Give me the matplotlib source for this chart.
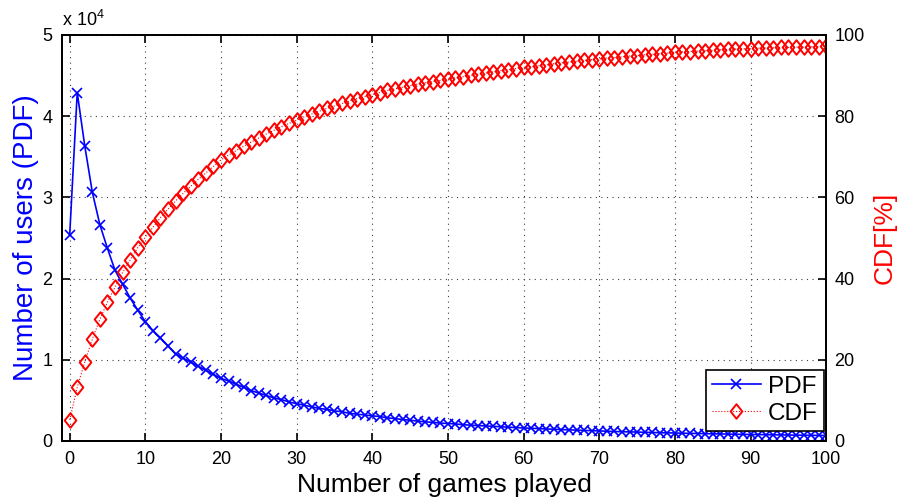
import matplotlib
matplotlib.use("Agg")
import matplotlib.pyplot as plt
from matplotlib.path import Path
from matplotlib.ticker import FuncFormatter

plt.rcParams['font.family'] = ['Liberation Sans', 'DejaVu Sans']
plt.rcParams['mathtext.fontset'] = 'custom'
plt.rcParams['mathtext.rm'] = 'Liberation Sans'

# number of games played (0..100)
games = list(range(101))

# PDF: number of users, in units of 1e4
pdf_1e4 = [
    2.53, 4.29, 3.63, 3.06, 2.66, 2.37, 2.10, 1.93, 1.76, 1.61,
    1.47, 1.36, 1.27, 1.17, 1.07, 1.02, 0.97, 0.92, 0.87, 0.82,
    0.77, 0.74, 0.70, 0.66, 0.62, 0.59, 0.56, 0.53, 0.51, 0.48,
    0.46, 0.44, 0.42, 0.40, 0.39, 0.37, 0.36, 0.34, 0.33, 0.32,
    0.31, 0.30, 0.285, 0.275, 0.265, 0.255, 0.245, 0.235, 0.23, 0.22,
    0.215, 0.21, 0.20, 0.195, 0.19, 0.185, 0.18, 0.175, 0.17, 0.165,
    0.16, 0.157, 0.152, 0.148, 0.145, 0.14, 0.137, 0.134, 0.13, 0.127,
    0.124, 0.12, 0.117, 0.114, 0.112, 0.11, 0.107, 0.105, 0.102, 0.10,
    0.098, 0.096, 0.094, 0.092, 0.09, 0.088, 0.087, 0.085, 0.083, 0.082,
    0.08, 0.079, 0.077, 0.076, 0.075, 0.073, 0.072, 0.071, 0.07, 0.069,
    0.068,
]
pdf_users = [v * 1e4 for v in pdf_1e4]

# CDF in percent
cdf_pct = [
    5.2, 13.2, 19.5, 25.1, 30.0, 34.2, 37.9, 41.5, 44.6, 47.6,
    50.2, 52.6, 55.0, 57.1, 59.1, 61.0, 62.7, 64.4, 66.0, 67.6,
    69.2, 70.4, 71.5, 72.6, 73.6, 74.6, 75.6, 76.5, 77.4, 78.2,
    79.0, 79.8, 80.5, 81.2, 81.9, 82.5, 83.1, 83.7, 84.3, 84.8,
    85.3, 85.8, 86.3, 86.7, 87.1, 87.5, 87.9, 88.2, 88.5, 88.8,
    89.1, 89.4, 89.7, 90.0, 90.3, 90.6, 90.9, 91.2, 91.4, 91.7,
    92.0, 92.2, 92.4, 92.6, 92.9, 93.1, 93.3, 93.5, 93.7, 93.9,
    94.1, 94.3, 94.4, 94.6, 94.8, 94.9, 95.1, 95.2, 95.4, 95.5,
    95.7, 95.8, 95.9, 96.0, 96.1, 96.2, 96.3, 96.4, 96.5, 96.6,
    96.6, 96.7, 96.8, 96.8, 96.9, 96.9, 97.0, 97.0, 97.1, 97.1,
    97.2,
]

# MATLAB-like diamond (a bit wider than matplotlib's 'd')
diamond = Path([(0, -1), (0.8, 0), (0, 1), (-0.8, 0), (0, -1)],
               [Path.MOVETO, Path.LINETO, Path.LINETO, Path.LINETO,
                Path.CLOSEPOLY])

fig = plt.figure(figsize=(9, 4.98), dpi=100)
ax1 = fig.add_axes([0.069, 0.1145, 0.849, 0.8155])
ax2 = ax1.twinx()

l1, = ax1.plot(games, pdf_users, color='blue', lw=1.2, marker='x',
               markersize=6.5, markeredgewidth=1.2, label='PDF')
l2, = ax2.plot(games, cdf_pct, color='red', lw=0.8, ls=':', marker=diamond,
               markersize=10.5, markerfacecolor='none', markeredgewidth=1.4,
               label='CDF')

ax1.set_xlim(-1, 100)
ax1.set_ylim(0, 5e4)
ax2.set_ylim(0, 100)
ax1.set_xticks(range(0, 101, 10))
ax1.set_yticks([i * 1e4 for i in range(6)])
ax2.set_yticks(range(0, 101, 20))
ax1.yaxis.set_major_formatter(FuncFormatter(lambda v, p: '%g' % (v / 1e4)))

ax1.grid(True, ls=(0, (1, 4)), color='0.25', lw=0.8)
ax1.tick_params(direction='in', labelsize=13, length=6, width=1.2,
                top=True, pad=7)
ax2.tick_params(direction='in', labelsize=13, length=6, width=1.2, pad=6)
for ax in (ax1, ax2):
    for s in ax.spines.values():
        s.set_linewidth(1.3)

ax1.set_xlabel('Number of games played', fontsize=19, labelpad=4)
ax1.set_ylabel('Number of users (PDF)', fontsize=20, color='blue', labelpad=2)
ax2.set_ylabel('CDF[%]', fontsize=19, color='red', labelpad=6)
ax1.text(0.0, 1.012, r'x 10$^{4}$', transform=ax1.transAxes,
         fontsize=13, ha='left', va='bottom')

leg = ax2.legend([l1, l2], ['PDF', 'CDF'], loc='lower right',
                 bbox_to_anchor=(0.997, 0.025), fontsize=17.5,
                 fancybox=False, edgecolor='black', framealpha=1,
                 borderaxespad=0, handlelength=2.0, borderpad=0.25,
                 labelspacing=0.2, handletextpad=0.3)
leg.get_frame().set_linewidth(1.2)

fig.savefig('out.png', dpi=100)
